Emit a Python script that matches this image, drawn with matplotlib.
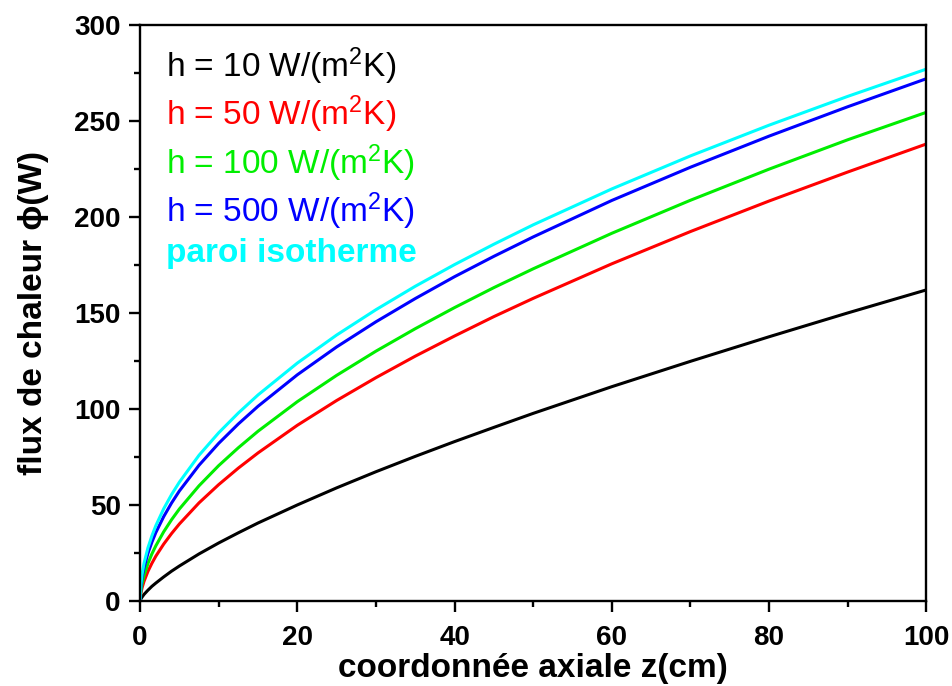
import matplotlib
matplotlib.use("Agg")
import matplotlib.pyplot as plt
from matplotlib.ticker import MultipleLocator

plt.rcParams['font.family'] = ['Liberation Sans', 'DejaVu Sans']
plt.rcParams['mathtext.default'] = 'regular'

z_cm = [0, 0.1, 0.25, 0.5, 1, 1.5, 2, 3, 4, 5, 7.5, 10, 12.5, 15, 20, 25, 30, 35, 40, 45,
        50, 60, 70, 80, 90, 100]
h10 = [0, 1.0, 2.0, 3.4, 5.6, 7.6, 9.3, 12.5, 15.5, 18.2, 24.5, 30.2, 35.5, 40.6, 50.0,
       58.9, 67.3, 75.3, 83.0, 90.4, 97.7, 111.6, 124.8, 137.6, 150.0, 162.0]
h50 = [0, 3.9, 6.8, 10.2, 15.4, 19.6, 23.3, 29.6, 35.1, 40.1, 51.1, 60.6, 69.2, 77.1, 91.5,
       104.4, 116.3, 127.5, 138.0, 148.1, 157.6, 175.6, 192.4, 208.3, 223.4, 238.0]
h100 = [0, 5.4, 9.0, 13.2, 19.5, 24.5, 28.7, 36.0, 42.3, 47.9, 60.0, 70.5, 79.8, 88.4, 103.8,
        117.5, 130.1, 141.8, 152.8, 163.2, 173.0, 191.5, 208.7, 224.9, 240.2, 254.5]
h500 = [0, 7.5, 12.1, 17.3, 24.8, 30.6, 35.6, 43.9, 51.0, 57.3, 70.7, 82.1, 92.2, 101.4, 117.8,
        132.3, 145.4, 157.5, 168.9, 179.5, 189.6, 208.6, 225.9, 242.1, 257.4, 272.0]
isotherme = [0, 8.8, 13.9, 19.6, 27.7, 33.9, 39.2, 48.0, 55.4, 61.9, 75.9, 87.6, 97.9, 107.3,
             123.9, 138.5, 151.7, 163.9, 175.2, 185.8, 195.9, 214.6, 231.8, 247.8, 262.8, 277.0]

series = [h10, h50, h100, h500, isotherme]
labels = ['h = 10 W/(m$^2$K)', 'h = 50 W/(m$^2$K)', 'h = 100 W/(m$^2$K)',
          'h = 500 W/(m$^2$K)', 'paroi isotherme']
colors = ['#000000', '#FF0000', '#00EE00', '#0000FF', '#00FFFF']

fig = plt.figure(figsize=(9.53, 6.86), dpi=100)
ax = fig.add_axes([0.147, 0.124, 0.825, 0.8396])

for y, lab, c in zip(series, labels, colors):
    ax.plot(z_cm, y, color=c, lw=2.2, label=lab)

ax.set_xlim(0, 100)
ax.set_ylim(0, 300)
ax.xaxis.set_major_locator(MultipleLocator(20))
ax.xaxis.set_minor_locator(MultipleLocator(10))
ax.yaxis.set_major_locator(MultipleLocator(50))
ax.yaxis.set_minor_locator(MultipleLocator(25))
ax.tick_params(which='major', direction='out', length=8, width=1.7, labelsize=20, pad=6)
ax.tick_params(axis='x', which='major', pad=9)
ax.tick_params(which='minor', direction='out', length=4, width=1.7)
ax.tick_params(top=False, right=False)
for lbl in ax.get_xticklabels() + ax.get_yticklabels():
    lbl.set_fontweight('bold')
for sp in ax.spines.values():
    sp.set_linewidth(1.7)

ax.set_xlabel('coordonnée axiale z(cm)', fontsize=24, fontweight='bold', labelpad=2)
ax.set_ylabel('flux de chaleur \u03d5(W)', fontsize=24, fontweight='bold', labelpad=18)

leg = ax.legend(loc='upper left', bbox_to_anchor=(-0.005, 1.016), frameon=False,
                handlelength=0, handletextpad=0, labelspacing=0.2,
                fontsize=24, labelcolor='linecolor')
for h in leg.legend_handles:
    h.set_visible(False)
leg.get_texts()[4].set_fontweight('bold')

fig.savefig('out.png', dpi=100)
